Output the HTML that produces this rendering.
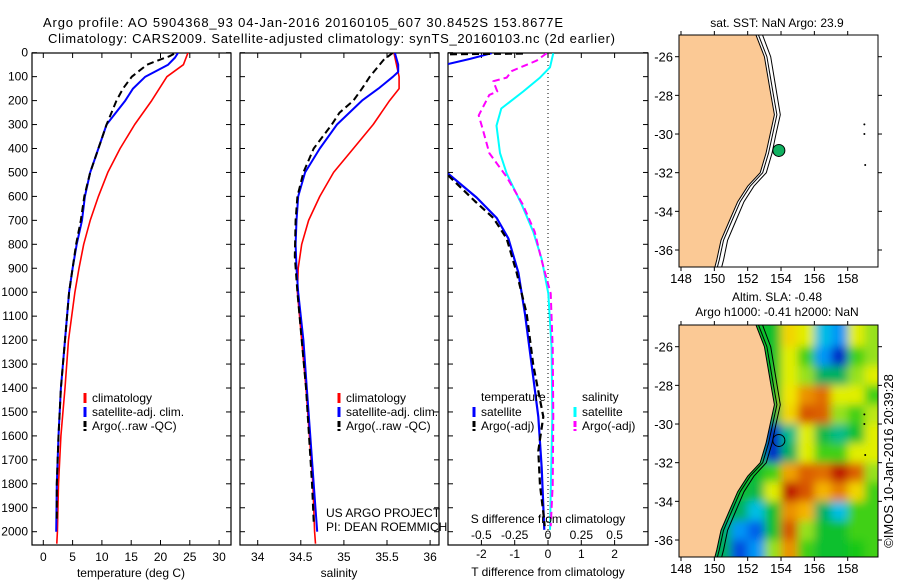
<!DOCTYPE html>
<html><head><meta charset="utf-8">
<style>
html,body{margin:0;padding:0;background:#fff;}
svg{display:block;font-family:"Liberation Sans",sans-serif;}
text{font-size:12px;fill:#000;}
</style></head>
<body>
<svg id="chart" width="900" height="580" viewBox="0 0 900 580" xmlns="http://www.w3.org/2000/svg">
<defs>
<filter id="blur" x="-10%" y="-10%" width="120%" height="120%"><feGaussianBlur stdDeviation="4.5"/></filter>
<clipPath id="mapclip2"><rect x="679" y="325" width="199" height="232"/></clipPath>
<clipPath id="mapclip1"><rect x="679" y="35" width="199" height="232"/></clipPath>
<clipPath id="p1clip"><rect x="32" y="53" width="199" height="492"/></clipPath>
<clipPath id="p2clip"><rect x="240" y="53" width="199" height="492"/></clipPath>
<clipPath id="p3clip"><rect x="448" y="53" width="200" height="492"/></clipPath>
</defs>
<text x="43" y="27" textLength="520" style="font-size:13px">Argo profile: AO 5904368_93 04-Jan-2016 20160105_607 30.8452S 153.8677E</text>
<text x="48" y="43" textLength="567" style="font-size:13px">Climatology: CARS2009. Satellite-adjusted climatology: synTS_20160103.nc (2d earlier)</text>
<g id="g"></g>
</svg>
<script>
// ---------- temperature profiles ----------
const climTDepth=[0,50,100,200,300,400,500,600,700,800,900,1000,1200,1400,1600,1800,2000,2050];
const climTemp=[24.7,23.9,21.1,18.5,15.6,13.1,11.0,9.4,8.0,6.9,6.1,5.4,4.3,3.7,3.0,2.6,2.4,2.3];
const satTDepth=[0,20,50,100,150,200,300,400,500,600,700,800,900,1000,1200,1400,1600,1800,2000];
const satTemp=[23.0,22.5,21.3,17.4,15.3,14.0,10.8,9.4,8.0,7.1,6.6,5.7,5.0,4.4,3.7,3.0,2.6,2.3,2.2];
const argoTDepth=[5,15,30,50,100,150,200,300,400,500,600,700,800,900,1000,1200,1400,1600,1800,1960];
const argoTemp=[22.3,21.5,19.8,17.7,15.1,13.6,12.5,10.8,9.4,8.0,7.0,6.4,5.6,5.0,4.4,3.7,3.0,2.6,2.3,2.3];
// ---------- salinity profiles ----------
const climSDepth=[0,50,100,150,200,300,400,500,600,700,800,900,1000,1200,1400,1600,1800,2000,2050];
const climSal=[35.58,35.61,35.64,35.64,35.53,35.34,35.11,34.88,34.72,34.59,34.51,34.47,34.46,34.51,34.56,34.60,34.64,34.66,34.67];
const satSDepth=[0,50,80,100,150,200,300,400,500,600,700,800,900,1000,1200,1400,1600,1800,2000];
const satSal=[35.59,35.63,35.63,35.57,35.40,35.21,34.92,34.72,34.55,34.47,34.45,34.44,34.45,34.47,34.53,34.57,34.61,34.65,34.69];
const argoSDepth=[0,30,100,150,200,250,300,400,500,600,700,850,1000,1400,1800,1960];
const argoSal=[35.57,35.46,35.30,35.21,35.11,34.95,34.86,34.65,34.53,34.46,34.44,34.43,34.46,34.56,34.63,34.65];
// ---------- difference profiles ----------
const satDTDepthA=[2,26,47];
const satDTA=[-1.69,-2.34,-3.0];
const satDTDepth=[505,605,690,776,919,1091,1305,1520,1734,1992];
const satDT=[-3.0,-2.14,-1.54,-1.19,-0.89,-0.69,-0.49,-0.29,-0.19,-0.11];
const argoDTDepthA=[3,6];
const argoDTA=[-0.75,-3.0];
const argoDTDepth=[512,619,690,776,919,1091,1305,1520,1663,1806,1920,1977];
const argoDT=[-3.0,-2.2,-1.64,-1.24,-0.94,-0.64,-0.44,-0.14,-0.29,-0.24,-0.14,-0.10];
const satDSDepth=[2,61,104,162,233,305,419,505,633,748,862,1005,1234,1520,1806,1992];
const satDS=[0.04,0.015,-0.06,-0.186,-0.35,-0.386,-0.36,-0.31,-0.198,-0.11,-0.047,0.002,0.027,0.032,0.022,0.015];
const argoDSDepth=[2,33,76,104,119,162,176,262,319,419,519,633,748,862,1005,1234,1520,1806,1977];
const argoDS=[-0.01,-0.085,-0.27,-0.31,-0.41,-0.38,-0.44,-0.52,-0.49,-0.44,-0.31,-0.19,-0.10,-0.05,0.02,0.035,0.04,0.035,0.02];
// ---------- axes ticks ----------
const depthTicks=[0,100,200,300,400,500,600,700,800,900,1000,1100,1200,1300,1400,1500,1600,1700,1800,1900,2000];
const tempTicks=[0,5,10,15,20,25,30];
const salTicks=[34,34.5,35,35.5,36];
const salTickLabels=["34","34.5","35","35.5","36"];
const dTTicks=[-2,-1,0,1,2];
const dSTicks=[-0.5,-0.25,0,0.25,0.5];
const dSTickLabels=["-0.5","-0.25","0","0.25","0.5"];
const lonTicks=[148,150,152,154,156,158];
const latTicks=[-26,-28,-30,-32,-34,-36];
// ---------- map data ----------
const coastLon=[152.4,152.5,153.0,153.2,153.4,153.6,153.35,153.1,152.75,152.0,151.4,150.9,150.4,150.15,150.0];
const coastLat=[-24.5,-24.88,-26,-27,-28,-29,-30,-31,-32,-32.7,-33.5,-34.5,-35.5,-36.5,-37.0];
const floatLon=153.87, floatLat=-30.85;
const slaLon=[148.5,149.5,150.5,151.5,152.5,153.5,154.5,155.5,156.5,157.5,158.5,159.5];
const slaLat=[-25.5,-26.5,-27.5,-28.5,-29.5,-30.5,-31.5,-32.5,-33.5,-34.5,-35.5,-36.5];
const slaGrid=[
[-0.2,-0.2,-0.2,-0.2,-0.2,-0.2,0.2,0.1,-0.5,-0.6,0.1,0.0],
[-0.2,-0.2,-0.2,-0.2,-0.2,-0.2,0.1,-0.1,-0.6,-0.95,-0.1,0.0],
[-0.2,-0.2,-0.2,-0.2,-0.2,-0.2,0.1,0.0,-0.3,-0.3,0.0,0.1],
[-0.2,-0.2,-0.2,-0.2,-0.2,-0.2,0.15,0.4,0.5,0.1,0.1,-0.1],
[-0.2,-0.2,-0.2,-0.2,-0.2,-0.25,0.2,0.6,0.55,0.0,-0.1,0.05],
[-0.2,-0.2,-0.2,-0.2,-0.2,-0.95,-0.35,0.1,-0.25,-0.35,-0.2,0.1],
[-0.2,-0.2,-0.2,-0.2,-0.2,-0.9,-0.3,0.1,-0.1,-0.1,0.1,0.1],
[-0.2,-0.2,-0.2,-0.2,-0.2,-0.1,0.35,0.55,0.5,0.95,0.55,0.0],
[-0.2,-0.2,-0.2,-0.2,-0.25,0.1,0.85,0.6,0.3,0.45,0.2,-0.1],
[-0.2,-0.2,-0.2,-0.3,-0.5,-0.2,0.4,0.3,-0.3,-0.5,-0.1,-0.1],
[-0.2,-0.2,-0.3,-0.6,-0.75,-0.2,0.6,0.0,-0.2,-0.2,-0.1,-0.1],
[-0.2,-0.2,-0.3,-0.8,-0.6,0.0,0.4,-0.1,-0.2,-0.2,-0.15,-0.1]];

const NS="http://www.w3.org/2000/svg";
const G=document.getElementById('g');
function mk(tag,attrs,parent,name,inter){const e=document.createElementNS(NS,tag);for(const k in attrs)e.setAttribute(k,attrs[k]);(parent||G).appendChild(e);


return e;}
function txt(x,y,s,anchor,parent,name,extra){const e=mk('text',Object.assign({x:x,y:y,'text-anchor':anchor||'start'},extra||{}),parent,name,false);e.textContent=s;return e;}

const PY0=52.7, PYK=0.2395, PTOP=53, PBOT=545;
const yD=d=>PY0+d*PYK;
const xT=t=>43.3+t*5.86;
const xS=s=>257.7+(s-34)*86.2;
const xDT=t=>548+t*33.3;
const xDS=s=>548+s*133.3;

function frame(x0,x1,name){mk('rect',{x:x0,y:PTOP,width:x1-x0,height:PBOT-PTOP,fill:'none',stroke:'#000','stroke-width':1.2},null,name,false);}
function vticks(x0,x1,xs,name){xs.forEach(x=>{mk('line',{x1:x,y1:PTOP,x2:x,y2:PTOP+5,stroke:'#000'},null,name+'-top-tick',false);mk('line',{x1:x,y1:PBOT,x2:x,y2:PBOT-5,stroke:'#000'},null,name+'-bottom-tick',false);});}
function hticks(x0,x1,name){depthTicks.forEach(d=>{const y=yD(d);mk('line',{x1:x0,y1:y,x2:x0+5,y2:y,stroke:'#000'},null,name+'-left-tick',false);mk('line',{x1:x1,y1:y,x2:x1-5,y2:y,stroke:'#000'},null,name+'-right-tick',false);});}
function line(xs,ds,xf,color,w,dash,clip,name){const pts=xs.map((v,i)=>xf(v).toFixed(1)+','+yD(ds[i]).toFixed(1)).join(' ');const a={points:pts,fill:'none',stroke:color,'stroke-width':w,'clip-path':'url(#'+clip+')','stroke-linejoin':'round'};if(dash)a['stroke-dasharray']=dash;return mk('polyline',a,null,name,false);}

// Panel 1
frame(32,231,'temperature-panel-frame');
hticks(32,231,'temp-depth');
vticks(32,231,tempTicks.map(xT),'temp');
depthTicks.forEach(d=>txt(28,yD(d)+4,String(d),'end',null,'depth-tick-label'));
tempTicks.forEach(t=>txt(xT(t),561,String(t),'middle',null,'temp-tick-label'));
txt(131,577,'temperature (deg C)','middle',null,'temperature-axis-title');
line(climTemp,climTDepth,xT,'#ff0000',1.6,null,'p1clip','temp-climatology-line');
line(satTemp,satTDepth,xT,'#0000ff',2,null,'p1clip','temp-satellite-line');
line(argoTemp,argoTDepth,xT,'#000',2,'7,4','p1clip','temp-argo-line');
// Panel 2
frame(240,439,'salinity-panel-frame');
hticks(240,439,'sal-depth');
vticks(240,439,salTicks.map(xS),'sal');
salTicks.forEach((s,i)=>txt(xS(s),561,salTickLabels[i],'middle',null,'sal-tick-label'));
txt(339,577,'salinity','middle',null,'salinity-axis-title');
line(climSal,climSDepth,xS,'#ff0000',1.6,null,'p2clip','sal-climatology-line');
line(satSal,satSDepth,xS,'#0000ff',2,null,'p2clip','sal-satellite-line');
line(argoSal,argoSDepth,xS,'#000',2,'7,4','p2clip','sal-argo-line');
// Panel 3
frame(448,648,'difference-panel-frame');
hticks(448,648,'diff-depth');
vticks(448,648,dTTicks.map(xDT),'diff');
mk('line',{x1:548,y1:PTOP,x2:548,y2:PBOT,stroke:'#000','stroke-dasharray':'1,3'},null,'zero-line',false);
line(satDTA,satDTDepthA,xDT,'#0000ff',2,null,'p3clip','dt-satellite-line-top');
line(satDT,satDTDepth,xDT,'#0000ff',2.2,null,'p3clip','dt-satellite-line');
line(argoDTA,argoDTDepthA,xDT,'#000',2.5,'7,4','p3clip','dt-argo-line-top');
line(argoDT,argoDTDepth,xDT,'#000',2.2,'7,4','p3clip','dt-argo-line');
line(satDS,satDSDepth,xDS,'#00ffff',2,null,'p3clip','ds-satellite-line');
line(argoDS,argoDSDepth,xDS,'#ff00ff',2,'7,4','p3clip','ds-argo-line');
dTTicks.forEach(t=>txt(xDT(t),558,String(t),'middle',null,'dt-tick-label'));
dSTicks.forEach((s,i)=>txt(xDS(s),539,dSTickLabels[i],'middle',null,'ds-tick-label'));
txt(548,523,'S difference from climatology','middle',null,'s-diff-axis-title');
txt(548,576,'T difference from climatology','middle',null,'t-diff-axis-title');

// legends
function legItem(x,y,color,label,dash,name){const l=mk('g',{},null,name,true);mk('line',{x1:x,y1:y-9,x2:x,y2:y+1,stroke:color,'stroke-width':3,'stroke-dasharray':dash||''},l,name+'-swatch',false);txt(x+7,y,label,'start',l,name+'-label');}
legItem(85,402,'#ff0000','climatology',null,'legend-temp-climatology');
legItem(85,416,'#0000ff','satellite-adj. clim.',null,'legend-temp-satellite');
legItem(85,430,'#000','Argo(..raw -QC)','6,2','legend-temp-argo');
legItem(339,402,'#ff0000','climatology',null,'legend-sal-climatology');
legItem(339,416,'#0000ff','satellite-adj. clim.',null,'legend-sal-satellite');
legItem(339,430,'#000','Argo(..raw -QC)','6,2','legend-sal-argo');
txt(481,401,'temperature','start',null,'legend-temperature-heading');
txt(582,401,'salinity','start',null,'legend-salinity-heading');
legItem(474,416,'#0000ff','satellite',null,'legend-dt-satellite');
legItem(474,430,'#000','Argo(-adj)','6,2','legend-dt-argo');
legItem(575,416,'#00ffff','satellite',null,'legend-ds-satellite');
legItem(575,430,'#ff00ff','Argo(-adj)','6,2','legend-ds-argo');
txt(326,517,'US ARGO PROJECT','start',null,'credit-project');
txt(326,531,'PI: DEAN ROEMMICH','start',null,'credit-pi');

// ---------- maps ----------
const MX0=679,MX1=878,MH=232;
const lonX=l=>681+(l-148)*16.67;
function slaColor(v){const st=[[-0.9,[0,40,200]],[-0.65,[0,130,255]],[-0.45,[0,210,220]],[-0.3,[0,176,96]],[-0.15,[20,200,20]],[0,[150,225,30]],[0.12,[240,240,0]],[0.3,[245,180,0]],[0.5,[225,110,0]],[0.85,[190,20,0]]];
 if(v<=st[0][0])return 'rgb('+st[0][1]+')';if(v>=st[st.length-1][0])return 'rgb('+st[st.length-1][1]+')';
 for(let i=0;i<st.length-1;i++){if(v>=st[i][0]&&v<=st[i+1][0]){const f=(v-st[i][0])/(st[i+1][0]-st[i][0]);const c=st[i][1].map((a,k)=>Math.round(a+(st[i+1][1][k]-a)*f));return 'rgb('+c+')';}}}
function drawMap(top,withSLA,name){
 const latY=la=>top+21.7+(-26-la)*19.33;
 const m=mk('g',{},null,name,false);
 mk('rect',{x:MX0,y:top,width:MX1-MX0,height:MH,fill:withSLA?'#00c040':'#fff'},m,name+'-background',false);
 if(withSLA){const h=mk('g',{'clip-path':'url(#mapclip2)'},m,'sla-heatmap',false);const hb=mk('g',{filter:'url(#blur)'},h,'sla-heatmap-cells',false);
  slaLat.forEach((la,i)=>slaLon.forEach((lo,j)=>{let x=lonX(lo-0.5),w=16.67,y=latY(la+0.5),hh=19.33;if(j===0){x-=20;w+=20;}if(j===slaLon.length-1)w+=20;if(i===0){y-=20;hh+=20;}if(i===slaLat.length-1)hh+=20;
   mk('rect',{x:x.toFixed(1),y:y.toFixed(1),width:(w+0.6).toFixed(1),height:(hh+0.6).toFixed(1),fill:slaColor(slaGrid[i][j])},hb,'sla-cell',false);}));}
 const g2=mk('g',{'clip-path':'url('+(withSLA?'#mapclip2':'#mapclip1')+')'},m,name+'-geo',false);
 let land='M'+(MX0-2)+','+(top-2);coastLon.forEach((lo,i)=>{land+=' L'+lonX(lo).toFixed(1)+','+latY(coastLat[i]).toFixed(1);});land+=' L'+(MX0-2)+','+(top+MH+5)+' Z';
 mk('path',{d:land,fill:'#fbc995',stroke:'#000','stroke-width':1},g2,name+'-land',false);
 [0.15,0.35].forEach((off,k)=>{const pts=coastLon.map((lo,i)=>lonX(lo+off+(k?0.05*Math.abs(coastLat[i]+30)/6:0)).toFixed(1)+','+latY(coastLat[i]).toFixed(1)).join(' ');mk('polyline',{points:pts,fill:'none',stroke:'#000','stroke-width':1},g2,name+'-isobath',false);});
 [[159.0,-29.5],[159.0,-30.0],[159.05,-31.6]].forEach(p=>mk('circle',{cx:lonX(p[0]),cy:latY(p[1]),r:1,fill:'#000'},g2,name+'-island',false));
 mk('circle',{cx:lonX(floatLon),cy:latY(floatLat),r:6,fill:withSLA?'none':'#10b060',stroke:'#000','stroke-width':1},m,name+'-float-marker',true);
 mk('rect',{x:MX0,y:top,width:MX1-MX0,height:MH,fill:'none',stroke:'#000','stroke-width':1},m,name+'-frame',false);
 lonTicks.forEach(l=>{const x=lonX(l);mk('line',{x1:x,y1:top,x2:x,y2:top-4,stroke:'#000'},m,'lon-tick',false);mk('line',{x1:x,y1:top+MH,x2:x,y2:top+MH+4,stroke:'#000'},m,'lon-tick',false);txt(x,top+MH+16,String(l),'middle',m,'lon-tick-label',{style:'font-size:13px'});});
 latTicks.forEach(la=>{const y=latY(la);mk('line',{x1:MX0,y1:y,x2:MX0-4,y2:y,stroke:'#000'},m,'lat-tick',false);mk('line',{x1:MX1,y1:y,x2:MX1+4,y2:y,stroke:'#000'},m,'lat-tick',false);txt(MX0-6,y+5,String(la),'end',m,'lat-tick-label',{style:'font-size:13px'});});
}
drawMap(35,false,'sst-map');
drawMap(325,true,'sla-map');
txt(777,27,'sat. SST: NaN Argo: 23.9','middle',null,'sst-map-title');
txt(777,301,'Altim. SLA: -0.48','middle',null,'sla-map-title');
txt(777,316,'Argo h1000: -0.41 h2000: NaN','middle',null,'sla-map-subtitle');
txt(0,0,'\u00A9IMOS 10-Jan-2016 20:39:28','middle',null,'imos-timestamp',{transform:'translate(893,461) rotate(-90)',style:'font-size:13px'});
</script>
</body></html>
